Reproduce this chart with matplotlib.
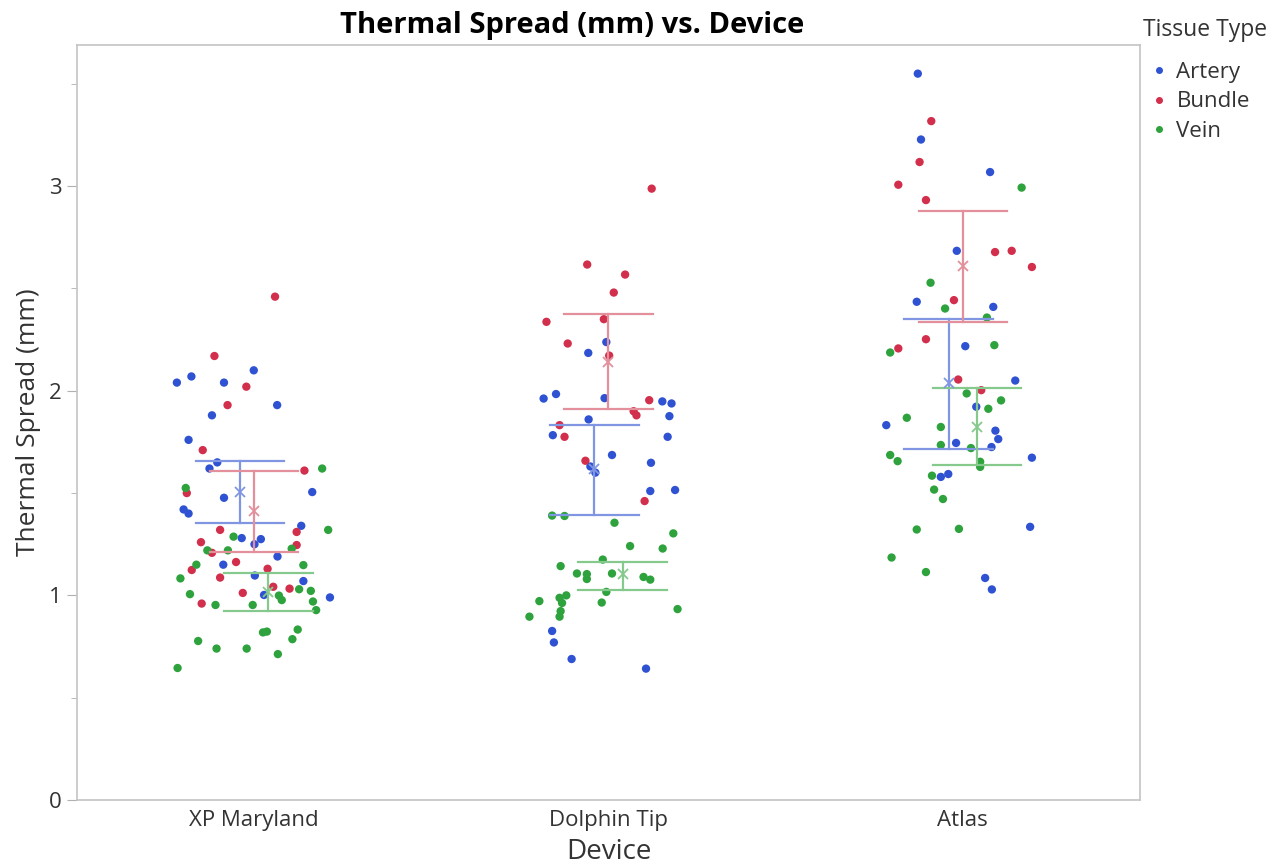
import numpy as np
import matplotlib
matplotlib.use("Agg")
import matplotlib.pyplot as plt
from matplotlib.lines import Line2D

plt.rcParams['font.family'] = ['Open Sans', 'DejaVu Sans']

devices = ["XP Maryland", "Dolphin Tip", "Atlas"]
tissues = ["Artery", "Bundle", "Vein"]

# individual measurements (mm) and their horizontal jitter (category units)
xp_artery = [2.10, 2.07, 2.04, 2.04, 1.93, 1.88, 1.76, 1.65, 1.62, 1.477, 1.505, 1.42,
             1.40, 1.34, 1.28, 1.275, 1.25, 1.19, 1.15, 1.097, 1.07, 1.002, 0.99]
xp_artery_dx = [-0.001, -0.177, -0.218, -0.085, 0.065, -0.119, -0.185, -0.104, -0.126, -0.085, 0.164, -0.199,
                -0.185, 0.133, -0.035, 0.019, 0.001, 0.066, -0.087, 0.002, 0.139, 0.028, 0.214]
xp_bundle = [2.46, 2.17, 2.02, 1.93, 1.71, 1.61, 1.50, 1.32, 1.31, 1.26, 1.208, 1.246,
             1.124, 1.163, 1.13, 1.087, 1.042, 1.033, 1.012, 0.96]
xp_bundle_dx = [0.059, -0.112, -0.022, -0.075, -0.145, 0.142, -0.190, -0.096, 0.120, -0.150, -0.119, 0.120,
                -0.176, -0.051, 0.038, -0.096, 0.054, 0.100, -0.032, -0.148]
xp_vein = [1.62, 1.525, 1.32, 1.287, 1.22, 1.22, 1.228, 1.15, 1.148, 1.083, 1.03, 1.022, 1.006, 0.999,
           0.977, 0.953, 0.953, 0.97, 0.928, 0.819, 0.823, 0.833, 0.786, 0.777, 0.74, 0.74, 0.713, 0.645]
xp_vein_dx = [0.192, -0.193, 0.209, -0.058, -0.132, -0.074, 0.106, -0.163, 0.139, -0.208, 0.127, 0.160, -0.181, 0.070,
              0.078, -0.109, -0.004, 0.166, 0.175, 0.025, 0.036, 0.123, 0.108, -0.158, -0.106, -0.021, 0.067, -0.216]

dt_artery = [2.238, 2.185, 1.962, 1.984, 1.964, 1.948, 1.938, 1.86, 1.876, 1.783, 1.775, 1.686,
             1.648, 1.63, 1.60, 1.51, 1.515, 0.826, 0.77, 0.689, 0.642]
dt_artery_dx = [-0.006, -0.057, -0.183, -0.148, -0.011, 0.152, 0.178, -0.056, 0.172, -0.157, 0.167, 0.010,
                0.120, -0.051, -0.037, 0.118, 0.188, -0.159, -0.154, -0.104, 0.106]
dt_bundle = [2.988, 2.617, 2.568, 2.48, 2.337, 2.35, 2.231, 2.172, 1.954, 1.90, 1.88, 1.832,
             1.775, 1.658, 1.461]
dt_bundle_dx = [0.122, -0.060, 0.047, 0.015, -0.175, -0.013, -0.115, 0.002, 0.115, 0.071, 0.079, -0.138,
                -0.124, -0.065, 0.102]
dt_vein = [1.39, 1.388, 1.355, 1.303, 1.241, 1.229, 1.175, 1.143, 1.107, 1.104, 1.08, 1.107,
           1.09, 1.077, 1.017, 1.0, 0.988, 0.963, 0.972, 0.965, 0.923, 0.896, 0.896, 0.933]
dt_vein_dx = [-0.159, -0.124, 0.017, 0.183, 0.061, 0.153, -0.016, -0.135, -0.089, -0.061, -0.061, 0.010,
              0.099, 0.118, -0.006, -0.119, -0.138, -0.131, -0.195, -0.019, -0.135, -0.138, -0.223, 0.195]

at_artery = [3.55, 3.228, 3.069, 2.684, 2.435, 2.41, 2.218, 2.05, 1.922, 1.832, 1.805, 1.764,
             1.745, 1.725, 1.673, 1.579, 1.593, 1.335, 1.085, 1.029]
at_artery_dx = [-0.127, -0.118, 0.077, -0.017, -0.130, 0.086, 0.007, 0.148, 0.038, -0.216, 0.092, 0.100,
                -0.019, 0.081, 0.195, -0.062, -0.041, 0.190, 0.063, 0.082]
at_bundle = [3.318, 3.118, 3.007, 2.932, 2.684, 2.678, 2.605, 2.443, 2.252, 2.207, 2.055, 2.003]
at_bundle_dx = [-0.089, -0.122, -0.182, -0.104, 0.138, 0.091, 0.195, -0.025, -0.104, -0.182, -0.013, 0.052]
at_vein = [2.993, 2.528, 2.402, 2.358, 2.187, 2.223, 1.987, 1.953, 1.912, 1.868, 1.823, 1.735,
           1.72, 1.686, 1.656, 1.653, 1.628, 1.585, 1.517, 1.471, 1.322, 1.325, 1.185, 1.114]
at_vein_dx = [0.166, -0.091, -0.050, 0.068, -0.205, 0.089, 0.011, 0.108, 0.072, -0.158, -0.062, -0.062,
              0.023, -0.205, -0.184, 0.049, 0.049, -0.087, -0.081, -0.056, -0.130, -0.011, -0.201, -0.104]

# group means and interval bars, rows = device, columns = tissue
means = [[1.506, 1.413, 1.017],
         [1.620, 2.140, 1.105],
         [2.036, 2.610, 1.823]]
ci_low = [[1.354, 1.213, 0.923],
          [1.395, 1.913, 1.028],
          [1.717, 2.337, 1.637]]
ci_high = [[1.655, 1.610, 1.110],
           [1.832, 2.375, 1.163],
           [2.353, 2.878, 2.014]]

points = [[(xp_artery, xp_artery_dx), (xp_bundle, xp_bundle_dx), (xp_vein, xp_vein_dx)],
          [(dt_artery, dt_artery_dx), (dt_bundle, dt_bundle_dx), (dt_vein, dt_vein_dx)],
          [(at_artery, at_artery_dx), (at_bundle, at_bundle_dx), (at_vein, at_vein_dx)]]

dot_colors = ["#2f52d2", "#d22f4c", "#2ea23c"]
bar_colors = ["#8196e2", "#e3909c", "#86c98c"]
dodge = [-0.04, 0.0, 0.04]
cap = 0.125

fig = plt.figure(figsize=(12.74, 8.67), dpi=100)
ax = fig.add_axes([0.0604, 0.0773, 0.8344, 0.8708])

for iDev in range(len(devices)):
    for iTis in range(len(tissues)):
        vals, dx = points[iDev][iTis]
        ax.scatter(iDev + np.array(dx), vals, s=36, color=dot_colors[iTis],
                   edgecolors="none", zorder=3)
    for iTis in range(len(tissues)):
        xc = iDev + dodge[iTis]
        lo = ci_low[iDev][iTis]
        hi = ci_high[iDev][iTis]
        ax.plot([xc, xc], [lo, hi], color=bar_colors[iTis], lw=1.6, zorder=4)
        ax.plot([xc - cap, xc + cap], [lo, lo], color=bar_colors[iTis], lw=1.6, zorder=4)
        ax.plot([xc - cap, xc + cap], [hi, hi], color=bar_colors[iTis], lw=1.6, zorder=4)
        ax.plot([xc], [means[iDev][iTis]], marker="x", ms=7, mew=1.3,
                color=bar_colors[iTis], zorder=5)

ax.set_xlim(-0.5, 2.5)
ax.set_ylim(0, 3.69)
ax.set_xticks(range(len(devices)))
ax.set_xticklabels(devices)
ax.set_yticks([0, 1, 2, 3])
ax.set_yticks([0.5, 1.5, 2.5, 3.5], minor=True)
ax.tick_params(axis="x", length=0, pad=7, labelsize=16, labelcolor="#333333")
ax.tick_params(axis="y", which="major", length=7, color="#b0b0b0", pad=4,
               labelsize=16, labelcolor="#333333")
ax.tick_params(axis="y", which="minor", length=4, color="#b0b0b0")
for sp in ax.spines.values():
    sp.set_color("#c4c4c4")
    sp.set_linewidth(1.2)

ax.set_xlabel("Device", fontsize=20, color="#333333", labelpad=5)
ax.set_ylabel("Thermal Spread (mm)", fontsize=19, color="#333333", labelpad=6)
fig.text(572 / 1274, 1 - 25 / 867, "Thermal Spread (mm) vs. Device", ha="center",
         va="center", fontsize=21, fontweight="bold", color="black")

fig.text(1143 / 1274, 1 - 30 / 867, "Tissue Type", ha="left", va="center",
         fontsize=16.5, color="#333333")
handles = [Line2D([], [], linestyle="none", marker="o", ms=4, color=c) for c in dot_colors]
leg = fig.legend(handles, tissues, loc="upper left",
                 bbox_to_anchor=(1152 / 1274, 1 - 62 / 867), frameon=False,
                 fontsize=16, handlelength=0.6, handletextpad=0.5,
                 labelspacing=0.38, borderaxespad=0, borderpad=0)
for t in leg.get_texts():
    t.set_color("#333333")

fig.savefig("out.png", dpi=100)
